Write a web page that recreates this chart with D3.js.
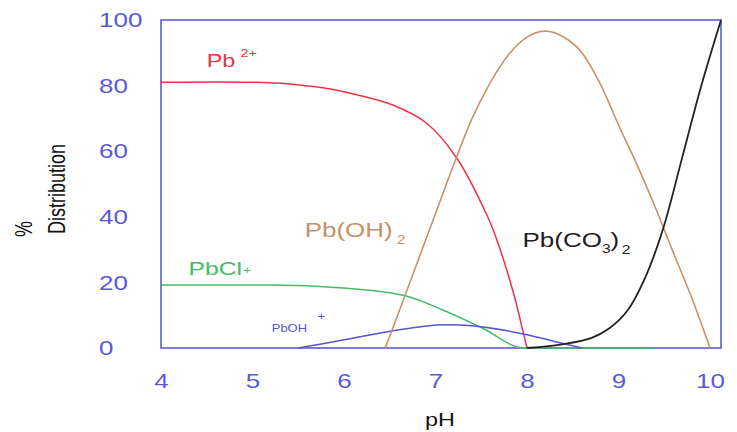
<!DOCTYPE html>
<html>
<head>
<meta charset="utf-8">
<script src="https://cdn.jsdelivr.net/npm/d3@7"></script>
<style>
  body { margin: 0; background: #fff; }
  text { font-family: "Liberation Sans", Arial, sans-serif; }
</style>
</head>
<body>
<div id="chart"></div>
<script>
var svgWidth = 737;
var svgHeight = 432;

// data (pH, % distribution)
var pb2Ph   = [4, 5, 5.4, 5.8, 6.17, 6.54, 6.9, 7.23, 7.57, 7.67, 7.85, 7.96, 8.0];
var pb2Val  = [81, 81, 80.5, 79.2, 77, 74, 68.6, 58, 40, 33, 17, 4.6, 0];

var pbclPh  = [4, 5.2, 5.99, 6.67, 7.08, 7.49, 7.97, 9.4];
var pbclVal = [19.2, 19.2, 18.3, 15.9, 11.6, 6.4, 0, 0];

var pbohPh  = [5.5, 6.0, 6.52, 7.02, 7.27, 7.52, 7.96, 8.3, 8.6];
var pbohVal = [0, 2.5, 5.2, 7, 7, 6.4, 4.3, 2, 0];

var hydPh   = [6.45, 6.6, 6.8, 7.0, 7.2, 7.4, 7.6, 7.8, 8.0, 8.2, 8.4, 8.6, 8.8, 9.0, 9.2, 9.4, 9.6, 9.8, 10.0];
var hydVal  = [0, 11, 26, 41, 56, 70, 81, 89.5, 94.8, 96.6, 94.8, 90, 80.5, 68, 56, 43, 29, 15.3, 0];

var carbPh  = [8.0, 8.4, 8.7, 8.9, 9.1, 9.3, 9.49, 9.7, 9.9, 10.12];
var carbVal = [0, 1.2, 3, 6, 11.5, 22, 36.6, 58.5, 79.5, 100];

var xTicks = [4, 5, 6, 7, 8, 9, 10];
var yTicks = [0, 20, 40, 60, 80, 100];

// chart positioning
var margin = { top: 20, right: 16, bottom: 84, left: 161 };
var width = svgWidth - margin.left - margin.right;
var height = svgHeight - margin.top - margin.bottom;
var stretch = 1.3; // text in the picture is widened

var blue = "#5a5ad8";

var svg = d3.select("#chart")
    .append("svg")
    .attr("width", svgWidth)
    .attr("height", svgHeight);

var chartGroup = svg.append("g")
    .attr("transform", `translate(${margin.left}, ${margin.top})`);

var x = d3.scaleLinear().domain([4, 10.12]).range([0, width]);
var y = d3.scaleLinear().domain([0, 100]).range([height, 0]);

// frame
chartGroup.append("rect")
    .attr("width", width)
    .attr("height", height)
    .attr("fill", "none")
    .attr("stroke", blue)
    .attr("stroke-width", 1.6);

// axes (labels only, no tick marks)
var bottomAxis = d3.axisBottom(x).tickValues(xTicks).tickFormat(d3.format("d")).tickSize(0).tickPadding(0);
var leftAxis = d3.axisLeft(y).tickValues(yTicks).tickFormat(d3.format("d")).tickSize(0);

var xAxisG = chartGroup.append("g")
    .attr("transform", `translate(0, ${height})`)
    .call(bottomAxis);
xAxisG.select(".domain").remove();
xAxisG.selectAll("text")
    .attr("y", 0).attr("dy", null)
    .attr("transform", "translate(0, 40) scale(" + stretch + ",1)")
    .attr("fill", blue)
    .style("font-size", "20px")
    .style("font-family", "Liberation Sans, Arial, sans-serif");

var yAxisG = chartGroup.append("g").call(leftAxis);
yAxisG.select(".domain").remove();
yAxisG.selectAll("text")
    .attr("x", 0).attr("dy", "0.33em")
    .attr("text-anchor", "start")
    .attr("transform", "translate(-62, 0) scale(" + stretch + ",1)")
    .attr("fill", blue)
    .style("font-size", "20px")
    .style("font-family", "Liberation Sans, Arial, sans-serif");

// curves
var smooth = d3.curveCatmullRom.alpha(0.5);
var mono = d3.curveMonotoneX;
var series = [
  { ph: pb2Ph, val: pb2Val, color: "#ee3344", w: 1.5, curve: smooth },
  { ph: pbclPh, val: pbclVal, color: "#44bb66", w: 1.5, curve: mono },
  { ph: pbohPh, val: pbohVal, color: "#5555d0", w: 1.5, curve: smooth },
  { ph: hydPh, val: hydVal, color: "#c8916c", w: 1.6, curve: mono },
  { ph: carbPh, val: carbVal, color: "#222222", w: 1.8, curve: smooth }
];

chartGroup.selectAll(".curve")
    .data(series)
    .enter()
    .append("path")
    .attr("class", "curve")
    .attr("fill", "none")
    .attr("stroke", d => d.color)
    .attr("stroke-width", d => d.w)
    .attr("d", function(d) {
      var line = d3.line()
          .x(p => x(p[0]))
          .y(p => y(p[1]))
          .curve(d.curve);
      return line(d3.zip(d.ph, d.val));
    });

// species labels
function label(ph, pct, color, size, parts) {
  var t = chartGroup.append("text")
      .attr("transform", `translate(${x(ph)}, ${y(pct)}) scale(${stretch},1)`)
      .attr("fill", color)
      .style("font-size", size + "px");
  parts.forEach(function(p) {
    var s = t.append("tspan").text(p.t);
    if (p.dy) s.attr("dy", p.dy);
    if (p.dx) s.attr("dx", p.dx);
    if (p.size) s.style("font-size", p.size + "px");
  });
}

label(4.5, 85.7, "#ee3344", 18, [{ t: "Pb" }, { t: "2+", dy: -10, dx: 4, size: 11 }]);
label(4.3, 22.3, "#44bb66", 19, [{ t: "PbCl" }, { t: "+", dy: -1, dx: 1, size: 10 }]);
label(5.21, 4.9, "#5555d0", 10, [{ t: "PbOH" }, { t: "+", dy: -12, dx: 8, size: 10 }]);
label(5.57, 33.8, "#c8916c", 20, [{ t: "Pb(OH)" }, { t: "2", dy: 7, dx: 3, size: 12 }]);
label(7.95, 30.8, "#222222", 20, [{ t: "Pb(CO" }, { t: "3", dy: 6, size: 12 }, { t: ")", dy: -6 }, { t: "2", dy: 7, dx: 2, size: 12 }]);

// axis titles
svg.append("text")
    .attr("transform", "translate(32, 229) scale(" + stretch + ",1) rotate(-90)")
    .attr("text-anchor", "middle")
    .attr("fill", "#111")
    .style("font-size", "18px")
    .text("%");

svg.append("text")
    .attr("transform", "translate(65, 189) scale(" + stretch + ",1) rotate(-90)")
    .attr("text-anchor", "middle")
    .attr("fill", "#111")
    .style("font-size", "18px")
    .text("Distribution");

svg.append("text")
    .attr("transform", "translate(440, 426) scale(" + stretch + ",1)")
    .attr("text-anchor", "middle")
    .attr("fill", "#111")
    .style("font-size", "18px")
    .text("pH");
</script>
</body>
</html>
